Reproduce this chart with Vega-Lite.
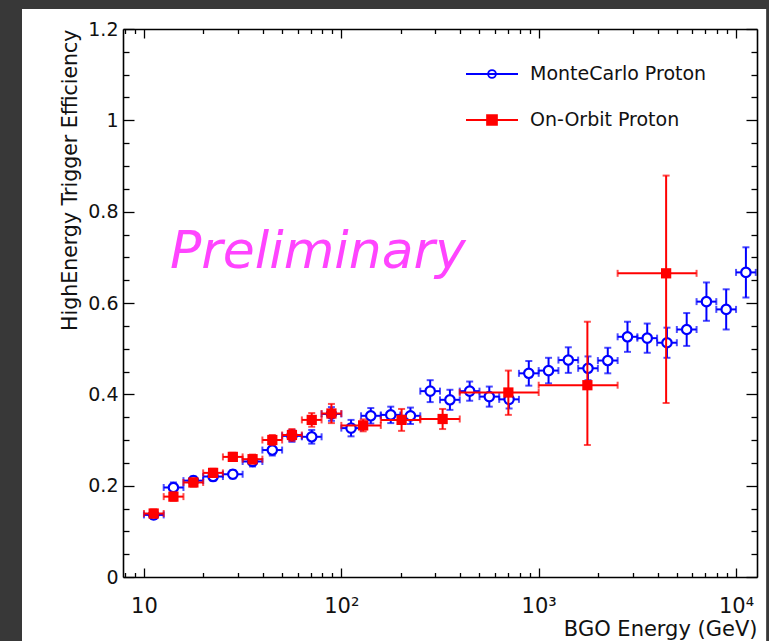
{
  "$schema": "https://vega.github.io/schema/vega-lite/v6.json",
  "width": 634,
  "height": 548,
  "autosize": {"type": "none"},
  "padding": {"left": 123, "top": 29, "right": 12, "bottom": 64},
  "background": "#383838",
  "config": {
    "view": {"stroke": null},
    "font": "DejaVu Sans",
    "axis": {"labelFont": "DejaVu Sans", "titleFont": "DejaVu Sans", "grid": false, "domainColor": "#000000", "domainWidth": 1.6, "tickColor": "#000000", "tickWidth": 1.3, "labelColor": "#111111", "titleColor": "#111111", "titleFontWeight": "normal", "labelOverlap": false, "labelFlush": false}
  },
  "datasets": {
    "mc": [
      {"E": 11.2, "Elo": 10, "Ehi": 12.59, "eff": 0.136, "lo": 0.127, "hi": 0.145},
      {"E": 14.1, "Elo": 12.59, "Ehi": 15.85, "eff": 0.196, "lo": 0.185, "hi": 0.207},
      {"E": 17.8, "Elo": 15.85, "Ehi": 19.95, "eff": 0.211, "lo": 0.202, "hi": 0.220},
      {"E": 22.4, "Elo": 19.95, "Ehi": 25.12, "eff": 0.220, "lo": 0.211, "hi": 0.229},
      {"E": 28.2, "Elo": 25.12, "Ehi": 31.62, "eff": 0.225, "lo": 0.216, "hi": 0.234},
      {"E": 35.5, "Elo": 31.62, "Ehi": 39.81, "eff": 0.253, "lo": 0.242, "hi": 0.264},
      {"E": 44.7, "Elo": 39.81, "Ehi": 50.12, "eff": 0.278, "lo": 0.266, "hi": 0.290},
      {"E": 56.2, "Elo": 50.12, "Ehi": 63.1, "eff": 0.309, "lo": 0.296, "hi": 0.322},
      {"E": 70.8, "Elo": 63.1, "Ehi": 79.43, "eff": 0.307, "lo": 0.292, "hi": 0.322},
      {"E": 89.1, "Elo": 79.43, "Ehi": 100, "eff": 0.357, "lo": 0.342, "hi": 0.372},
      {"E": 112, "Elo": 100, "Ehi": 125.9, "eff": 0.326, "lo": 0.308, "hi": 0.344},
      {"E": 141, "Elo": 125.9, "Ehi": 158.5, "eff": 0.353, "lo": 0.336, "hi": 0.370},
      {"E": 178, "Elo": 158.5, "Ehi": 199.5, "eff": 0.355, "lo": 0.337, "hi": 0.373},
      {"E": 224, "Elo": 199.5, "Ehi": 251.2, "eff": 0.353, "lo": 0.335, "hi": 0.371},
      {"E": 282, "Elo": 251.2, "Ehi": 316.2, "eff": 0.407, "lo": 0.383, "hi": 0.431},
      {"E": 355, "Elo": 316.2, "Ehi": 398.1, "eff": 0.388, "lo": 0.366, "hi": 0.410},
      {"E": 447, "Elo": 398.1, "Ehi": 501.2, "eff": 0.407, "lo": 0.386, "hi": 0.428},
      {"E": 562, "Elo": 501.2, "Ehi": 631, "eff": 0.395, "lo": 0.373, "hi": 0.417},
      {"E": 708, "Elo": 631, "Ehi": 794.3, "eff": 0.389, "lo": 0.369, "hi": 0.409},
      {"E": 891, "Elo": 794.3, "Ehi": 1000, "eff": 0.446, "lo": 0.419, "hi": 0.473},
      {"E": 1122, "Elo": 1000, "Ehi": 1259, "eff": 0.452, "lo": 0.424, "hi": 0.480},
      {"E": 1413, "Elo": 1259, "Ehi": 1585, "eff": 0.475, "lo": 0.447, "hi": 0.503},
      {"E": 1778, "Elo": 1585, "Ehi": 1995, "eff": 0.457, "lo": 0.431, "hi": 0.483},
      {"E": 2239, "Elo": 1995, "Ehi": 2512, "eff": 0.474, "lo": 0.446, "hi": 0.502},
      {"E": 2818, "Elo": 2512, "Ehi": 3162, "eff": 0.526, "lo": 0.493, "hi": 0.559},
      {"E": 3548, "Elo": 3162, "Ehi": 3981, "eff": 0.523, "lo": 0.491, "hi": 0.555},
      {"E": 4467, "Elo": 3981, "Ehi": 5012, "eff": 0.513, "lo": 0.480, "hi": 0.546},
      {"E": 5623, "Elo": 5012, "Ehi": 6310, "eff": 0.542, "lo": 0.506, "hi": 0.578},
      {"E": 7079, "Elo": 6310, "Ehi": 7943, "eff": 0.603, "lo": 0.561, "hi": 0.645},
      {"E": 8913, "Elo": 7943, "Ehi": 10000, "eff": 0.586, "lo": 0.542, "hi": 0.630},
      {"E": 11220, "Elo": 10000, "Ehi": 12589, "eff": 0.667, "lo": 0.612, "hi": 0.722}
    ],
    "orbit": [
      {"E": 11.2, "Elo": 10, "Ehi": 12.59, "eff": 0.139, "lo": 0.130, "hi": 0.148},
      {"E": 14.1, "Elo": 12.59, "Ehi": 15.85, "eff": 0.176, "lo": 0.167, "hi": 0.185},
      {"E": 17.8, "Elo": 15.85, "Ehi": 19.95, "eff": 0.207, "lo": 0.198, "hi": 0.216},
      {"E": 22.4, "Elo": 19.95, "Ehi": 25.12, "eff": 0.228, "lo": 0.219, "hi": 0.237},
      {"E": 28.2, "Elo": 25.12, "Ehi": 31.62, "eff": 0.263, "lo": 0.254, "hi": 0.272},
      {"E": 35.5, "Elo": 31.62, "Ehi": 39.81, "eff": 0.258, "lo": 0.248, "hi": 0.268},
      {"E": 44.7, "Elo": 39.81, "Ehi": 50.12, "eff": 0.300, "lo": 0.289, "hi": 0.311},
      {"E": 56.2, "Elo": 50.12, "Ehi": 63.1, "eff": 0.311, "lo": 0.298, "hi": 0.324},
      {"E": 70.8, "Elo": 63.1, "Ehi": 79.43, "eff": 0.344, "lo": 0.329, "hi": 0.359},
      {"E": 89.1, "Elo": 79.43, "Ehi": 100, "eff": 0.358, "lo": 0.337, "hi": 0.379},
      {"E": 129, "Elo": 100, "Ehi": 158.5, "eff": 0.332, "lo": 0.319, "hi": 0.345},
      {"E": 202, "Elo": 158.5, "Ehi": 251.2, "eff": 0.344, "lo": 0.320, "hi": 0.368},
      {"E": 326, "Elo": 251.2, "Ehi": 398.1, "eff": 0.346, "lo": 0.324, "hi": 0.368},
      {"E": 702, "Elo": 398.1, "Ehi": 1000, "eff": 0.404, "lo": 0.355, "hi": 0.452},
      {"E": 1765, "Elo": 1000, "Ehi": 2512, "eff": 0.420, "lo": 0.289, "hi": 0.559},
      {"E": 4423, "Elo": 2512, "Ehi": 6310, "eff": 0.665, "lo": 0.381, "hi": 0.879}
    ],
    "series": [
      {"s": "MonteCarlo Proton"},
      {"s": "On-Orbit Proton"}
    ]
  },
  "layer": [
    {
      "data": {"values": [{"panel": "frame"}]},
      "mark": {"type": "rect", "color": "#ffffff", "clip": false},
      "encoding": {
        "x": {"datum": 2.41, "type": "quantitative", "scale": {"type": "log", "domain": [7.83, 12770], "nice": false},
          "axis": {
            "orient": "bottom",
            "zindex": 1,
            "values": [8, 9, 10, 20, 30, 40, 50, 60, 70, 80, 90, 100, 200, 300, 400, 500, 600, 700, 800, 900, 1000, 2000, 3000, 4000, 5000, 6000, 7000, 8000, 9000, 10000],
            "labelExpr": "datum.value==10?'10':datum.value==100?'10²':datum.value==1000?'10³':datum.value==10000?'10⁴':''",
            "tickSize": {"condition": {"test": "datum.value==10||datum.value==100||datum.value==1000||datum.value==10000", "value": -9}, "value": -4.5},
            "labelPadding": 27,
            "labelFontSize": 21,
            "title": "BGO Energy (GeV)",
            "titleAnchor": "end",
            "titleFontSize": 21,
            "titleBaseline": "alphabetic",
            "titleY": 58
          }
        },
        "x2": {"datum": 14210},
        "y": {"datum": -0.16, "type": "quantitative", "scale": {"domain": [0, 1.2], "nice": false, "zero": false},
          "axis": {
            "orient": "left",
            "zindex": 1,
            "values": [0, 0.05, 0.1, 0.15, 0.2, 0.25, 0.3, 0.35, 0.4, 0.45, 0.5, 0.55, 0.6, 0.65, 0.7, 0.75, 0.8, 0.85, 0.9, 0.95, 1, 1.05, 1.1, 1.15, 1.2],
            "labelExpr": "abs(datum.value*5-round(datum.value*5))<0.001 ? format(datum.value, '.1~f') : ''",
            "tickSize": {"condition": {"test": "abs(datum.value*5-round(datum.value*5))<0.001", "value": -11}, "value": -6},
            "labelPadding": 16,
            "labelFontSize": 19,
            "title": "HighEnergy Trigger Efficiency",
            "titleAnchor": "end",
            "titleFontSize": 20.5,
            "titlePadding": 7
          }
        },
        "y2": {"datum": 1.2438}
      }
    },
    {
      "data": {"name": "mc"},
      "mark": {"type": "errorbar", "ticks": true, "size": 7, "thickness": 2, "color": "#0000ff"},
      "encoding": {
        "x": {"field": "E", "type": "quantitative", "scale": {"type": "log", "domain": [7.83, 12770], "nice": false}, "axis": null},
        "y": {"field": "lo", "type": "quantitative", "scale": {"domain": [0, 1.2], "nice": false, "zero": false}, "axis": null},
        "y2": {"field": "hi"}
      }
    },
    {
      "data": {"name": "mc"},
      "mark": {"type": "errorbar", "ticks": true, "size": 7, "thickness": 2, "color": "#0000ff"},
      "encoding": {
        "x": {"field": "Elo", "type": "quantitative", "scale": {"type": "log", "domain": [7.83, 12770], "nice": false}, "axis": null},
        "x2": {"field": "Ehi"},
        "y": {"field": "eff", "type": "quantitative", "scale": {"domain": [0, 1.2], "nice": false, "zero": false}, "axis": null}
      }
    },
    {
      "data": {"name": "mc"},
      "mark": {"type": "point", "shape": "circle", "filled": true, "fill": "#ffffff", "stroke": "#0000ff", "strokeWidth": 2.2, "size": 88, "opacity": 1},
      "encoding": {
        "x": {"field": "E", "type": "quantitative", "scale": {"type": "log", "domain": [7.83, 12770], "nice": false},
          "axis": {
            "orient": "top",
            "zindex": 1,
            "values": [8, 9, 10, 20, 30, 40, 50, 60, 70, 80, 90, 100, 200, 300, 400, 500, 600, 700, 800, 900, 1000, 2000, 3000, 4000, 5000, 6000, 7000, 8000, 9000, 10000],
            "labels": false,
            "tickSize": {"condition": {"test": "datum.value==10||datum.value==100||datum.value==1000||datum.value==10000", "value": -9}, "value": -4.5},
            "title": null
          }
        },
        "y": {"field": "eff", "type": "quantitative", "scale": {"domain": [0, 1.2], "nice": false, "zero": false},
          "axis": {
            "orient": "right",
            "zindex": 1,
            "values": [0, 0.05, 0.1, 0.15, 0.2, 0.25, 0.3, 0.35, 0.4, 0.45, 0.5, 0.55, 0.6, 0.65, 0.7, 0.75, 0.8, 0.85, 0.9, 0.95, 1, 1.05, 1.1, 1.15, 1.2],
            "labels": false,
            "tickSize": {"condition": {"test": "abs(datum.value*5-round(datum.value*5))<0.001", "value": -11}, "value": -6},
            "title": null
          }
        }
      }
    },
    {
      "data": {"name": "orbit"},
      "mark": {"type": "errorbar", "ticks": true, "size": 7, "thickness": 2, "color": "#ff0000"},
      "encoding": {
        "x": {"field": "E", "type": "quantitative", "scale": {"type": "log", "domain": [7.83, 12770], "nice": false}, "axis": null},
        "y": {"field": "lo", "type": "quantitative", "scale": {"domain": [0, 1.2], "nice": false, "zero": false}, "axis": null},
        "y2": {"field": "hi"}
      }
    },
    {
      "data": {"name": "orbit"},
      "mark": {"type": "errorbar", "ticks": true, "size": 7, "thickness": 2, "color": "#ff0000"},
      "encoding": {
        "x": {"field": "Elo", "type": "quantitative", "scale": {"type": "log", "domain": [7.83, 12770], "nice": false}, "axis": null},
        "x2": {"field": "Ehi"},
        "y": {"field": "eff", "type": "quantitative", "scale": {"domain": [0, 1.2], "nice": false, "zero": false}, "axis": null}
      }
    },
    {
      "data": {"name": "orbit"},
      "mark": {"type": "square", "color": "#ff0000", "size": 105, "opacity": 1},
      "encoding": {
        "x": {"field": "E", "type": "quantitative", "scale": {"type": "log", "domain": [7.83, 12770], "nice": false}, "axis": null},
        "y": {"field": "eff", "type": "quantitative", "scale": {"domain": [0, 1.2], "nice": false, "zero": false}, "axis": null}
      }
    },
    {
      "data": {"name": "series"},
      "transform": [{"filter": "false"}],
      "mark": {"type": "point", "strokeWidth": 1.8, "opacity": 1},
      "encoding": {
        "stroke": {"field": "s", "type": "nominal", "scale": {"domain": ["MonteCarlo Proton", "On-Orbit Proton"], "range": ["#0000ff", "#ff0000"]},
          "legend": {"title": null, "orient": "none", "legendX": 355, "legendY": 31, "symbolSize": 676, "symbolStrokeWidth": 1.8, "labelFontSize": 19, "labelFont": "DejaVu Sans", "labelColor": "#111111", "labelOffset": 24, "rowPadding": 22, "padding": 0, "labelLimit": 400}},
        "fill": {"field": "s", "type": "nominal", "scale": {"domain": ["MonteCarlo Proton", "On-Orbit Proton"], "range": ["#ffffff", "#ff0000"]},
          "legend": {"title": null, "orient": "none", "legendX": 355, "legendY": 31, "symbolSize": 676, "symbolStrokeWidth": 1.8, "labelFontSize": 19, "labelFont": "DejaVu Sans", "labelColor": "#111111", "labelOffset": 24, "rowPadding": 22, "padding": 0, "labelLimit": 400}},
        "shape": {"field": "s", "type": "nominal", "scale": {"domain": ["MonteCarlo Proton", "On-Orbit Proton"], "range": ["M-2,0H2M-0.3,0A0.3,0.3,0,1,1,0.3,0A0.3,0.3,0,1,1,-0.3,0Z", "M-2,0H2M-0.38,-0.38H0.38V0.38H-0.38Z"]},
          "legend": {"title": null, "orient": "none", "legendX": 355, "legendY": 31, "symbolSize": 676, "symbolStrokeWidth": 1.8, "labelFontSize": 19, "labelFont": "DejaVu Sans", "labelColor": "#111111", "labelOffset": 24, "rowPadding": 22, "padding": 0, "labelLimit": 400}}
      }
    },
    {
      "data": {"values": [{"label": "Preliminary"}]},
      "mark": {"type": "text", "font": "DejaVu Sans", "fontStyle": "italic", "fontSize": 52, "color": "#ff44ff", "align": "left", "baseline": "alphabetic", "clip": false},
      "encoding": {
        "text": {"field": "label", "type": "nominal"},
        "x": {"datum": 13.55, "type": "quantitative", "scale": {"type": "log", "domain": [7.83, 12770], "nice": false}, "axis": null},
        "y": {"datum": 0.677, "type": "quantitative", "scale": {"domain": [0, 1.2], "nice": false, "zero": false}, "axis": null}
      }
    }
  ],
  "resolve": {"axis": {"x": "independent", "y": "independent"}}
}
